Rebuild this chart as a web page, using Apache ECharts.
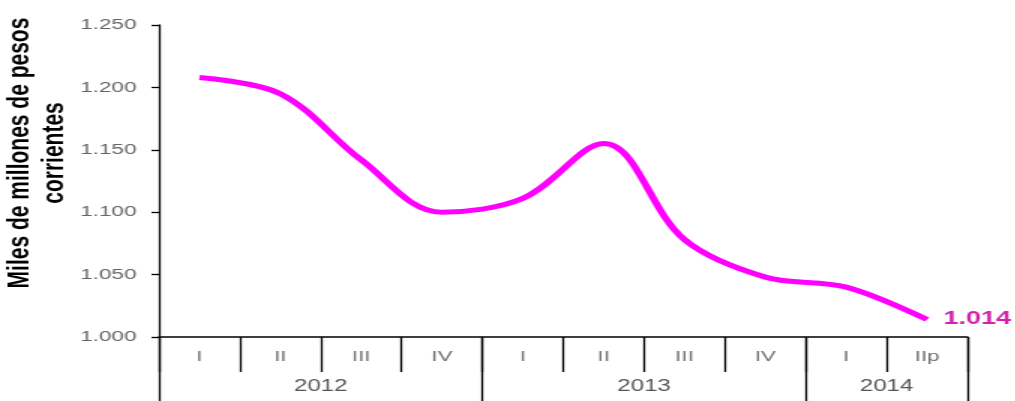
<!DOCTYPE html>
<html>
<head>
<meta charset="utf-8">
<script src="https://cdn.jsdelivr.net/npm/echarts@6/dist/echarts.min.js"></script>
<style>
  html, body { margin: 0; padding: 0; background: #fff; overflow: hidden; }
  /* the source picture is stretched sideways, so the chart is drawn narrow and widened */
  #chart { width: 677px; height: 401px; transform: scaleX(1.5); transform-origin: 0 0; }
</style>
</head>
<body>
<div id="chart"></div>
<script>
// quarters, grouped by year
const quarters = ["I", "II", "III", "IV", "I", "II", "III", "IV", "I", "IIp"];
const years = ["2012", "2013", "2014"];
const quartersPerYear = [4, 4, 2];
// miles de millones de pesos corrientes
const values = [1208, 1195, 1142, 1100, 1111, 1155, 1078, 1048, 1040, 1014];
const yTicks = { min: 1000, max: 1250, step: 50 };

const font = "'Liberation Sans', Arial, sans-serif";

function dotThousands(v) {
  return String(v).replace(/\B(?=(\d{3})+(?!\d))/g, ".");
}

// year boundaries and centres on a 0..quarters.length scale
let yearBounds = [0];
let yearMids = [];
let yearAt = {};
quartersPerYear.forEach((n, i) => {
  const start = yearBounds[yearBounds.length - 1];
  yearBounds.push(start + n);
  yearMids.push(start + n / 2);
  yearAt[start + n / 2] = years[i];
});

const chart = echarts.init(document.getElementById("chart"));
chart.setOption({
  animation: false,
  grid: { left: 106, right: 32, top: 25, bottom: 64 },
  graphic: [
    {
      type: "text",
      x: 25,
      y: 153,
      rotation: Math.PI / 2,
      style: {
        text: "Miles de millones de pesos\ncorrientes",
        align: "center",
        verticalAlign: "middle",
        font: "bold 21px " + font,
        lineHeight: 23,
        fill: "#000",
      },
    },
  ],
  xAxis: [
    {
      type: "category",
      data: quarters,
      position: "bottom",
      axisLine: { onZero: false, lineStyle: { color: "#000", width: 1.5 } },
      axisTick: { show: true, interval: 0, length: 35, lineStyle: { color: "#000", width: 1.3 } },
      axisLabel: { interval: 0, margin: 12, color: "#707070", fontSize: 15, fontFamily: font },
      splitLine: { show: false },
    },
    {
      type: "value",
      min: 0,
      max: quarters.length,
      position: "bottom",
      axisLine: { show: false, onZero: false },
      axisTick: { show: true, customValues: yearBounds, length: 70, lineStyle: { color: "#000", width: 1.3 } },
      axisLabel: {
        customValues: yearMids,
        formatter: (v) => yearAt[v] || "",
        margin: 42,
        color: "#555",
        fontSize: 16,
        fontFamily: font,
      },
      splitLine: { show: false },
    },
  ],
  yAxis: {
    type: "value",
    min: yTicks.min,
    max: yTicks.max,
    interval: yTicks.step,
    axisLine: { show: true, onZero: false, lineStyle: { color: "#000", width: 1.3 } },
    axisTick: { show: true, length: 5, lineStyle: { color: "#000", width: 1.3 } },
    axisLabel: { margin: 15, color: "#666", fontSize: 15, fontFamily: font, formatter: dotThousands },
    splitLine: { show: false },
  },
  series: [
    {
      type: "line",
      xAxisIndex: 0,
      yAxisIndex: 0,
      data: values,
      smooth: 0.35,
      showSymbol: false,
      lineStyle: { color: "#ff00ff", width: 5 },
      itemStyle: { color: "#ff00ff" },
      endLabel: {
        show: true,
        distance: 11,
        formatter: (p) => dotThousands(p.value),
        color: "#d41fae",
        fontWeight: "bold",
        fontSize: 18,
        fontFamily: font,
      },
    },
  ],
});
</script>
</body>
</html>
